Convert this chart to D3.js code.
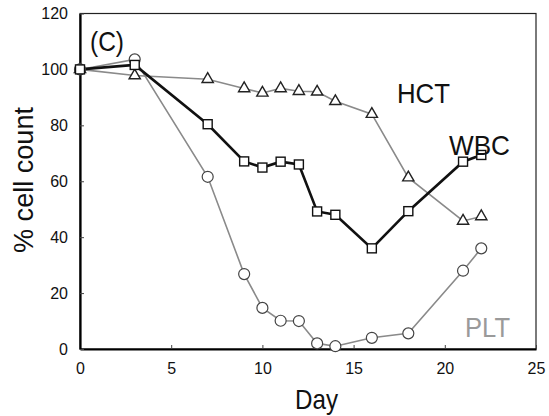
<!DOCTYPE html>
<html>
<head>
<meta charset="utf-8">
<script src="https://cdn.jsdelivr.net/npm/d3@7"></script>
<style>
  body { margin: 0; background: #fff; }
  text { font-family: "Liberation Sans", Arial, sans-serif; }
</style>
</head>
<body>
<script>
var days = [0, 3, 7, 9, 10, 11, 12, 13, 14, 16, 18, 21, 22];
var hct = [100, 97.8, 96.5, 93.2, 91.6, 93.2, 92.2, 92, 88.6, 84, 61.3, 45.8, 47.4];
var wbc = [100, 101.6, 80.4, 67.1, 64.9, 67, 66, 49.2, 48, 36, 49.3, 67, 69.4];
var plt = [100, 103.6, 61.6, 26.8, 14.7, 10.1, 10, 2, 1, 4, 5.6, 28, 36];
var xTicks = [0, 5, 10, 15, 20, 25];
var yTicks = [0, 20, 40, 60, 80, 100, 120];

var W = 549, H = 416;
var mLeft = 80, mRight = 536, mTop = 13.5, mBottom = 349;

var svg = d3.select('body').append('svg')
  .attr('width', W)
  .attr('height', H);

var x = d3.scaleLinear().domain([0, 25]).range([mLeft, mRight]);
var y = d3.scaleLinear().domain([0, 120]).range([mBottom, mTop]);

// frame (top/right thinner)
svg.append('rect')
  .attr('x', mLeft).attr('y', mTop)
  .attr('width', mRight - mLeft).attr('height', mBottom - mTop)
  .attr('fill', 'none').attr('stroke', '#222').attr('stroke-width', 1.2);

var xAxis = svg.append('g')
  .attr('transform', 'translate(0,' + mBottom + ')')
  .call(d3.axisBottom(x).tickValues(xTicks).tickSizeInner(-4).tickSizeOuter(0).tickPadding(14));
var yAxis = svg.append('g')
  .attr('transform', 'translate(' + mLeft + ',0)')
  .call(d3.axisLeft(y).tickValues(yTicks).tickSizeInner(-4).tickSizeOuter(0).tickPadding(12));

[xAxis, yAxis].forEach(function(a) {
  a.select('.domain').attr('stroke', '#000').attr('stroke-width', 2.2);
  a.selectAll('.tick line').attr('stroke', '#444');
  a.selectAll('.tick text')
    .attr('fill', '#111')
    .style('font-size', '16px')
    .style('font-family', '"Liberation Sans", Arial, sans-serif');
});

var line = d3.line()
  .x(function(d) { return x(d[0]); })
  .y(function(d) { return y(d[1]); });

function pairs(vals) {
  return days.map(function(d, i) { return [d, vals[i]]; });
}

// HCT
svg.append('path').datum(pairs(hct))
  .attr('d', line).attr('fill', 'none')
  .attr('stroke', '#8a8a8a').attr('stroke-width', 1.6);
// PLT
svg.append('path').datum(pairs(plt))
  .attr('d', line).attr('fill', 'none')
  .attr('stroke', '#8a8a8a').attr('stroke-width', 1.6);
// WBC
svg.append('path').datum(pairs(wbc))
  .attr('d', line).attr('fill', 'none')
  .attr('stroke', '#111').attr('stroke-width', 2.6);

svg.append('g').selectAll('path')
  .data(pairs(hct))
  .enter()
  .append('path')
    .attr('d', d3.symbol().type(d3.symbolTriangle).size(55))
    .attr('transform', function(d) { return 'translate(' + x(d[0]) + ',' + y(d[1]) + ')'; })
    .attr('fill', '#fff').attr('stroke', '#222').attr('stroke-width', 1.4);

svg.append('g').selectAll('circle')
  .data(pairs(plt))
  .enter()
  .append('circle')
    .attr('cx', function(d) { return x(d[0]); })
    .attr('cy', function(d) { return y(d[1]); })
    .attr('r', 5.5)
    .attr('fill', '#fff').attr('stroke', '#444').attr('stroke-width', 1.2);

svg.append('g').selectAll('rect')
  .data(pairs(wbc))
  .enter()
  .append('rect')
    .attr('x', function(d) { return x(d[0]) - 4.5; })
    .attr('y', function(d) { return y(d[1]) - 4.5; })
    .attr('width', 9).attr('height', 9)
    .attr('fill', '#fff').attr('stroke', '#111').attr('stroke-width', 1.4);

// labels, slightly condensed like the scanned figure
function label(txt, px, py, len, col) {
  return svg.append('text').text(txt)
    .attr('x', px).attr('y', py)
    .attr('textLength', len).attr('lengthAdjust', 'spacingAndGlyphs')
    .style('font-size', '28px').attr('fill', col || '#111');
}
label('(C)', 90, 51, 34);
label('HCT', 397, 103, 53);
label('WBC', 449, 155, 61);
label('PLT', 465, 337, 45, '#9a9a9a');
label('Day', 295, 409, 43);

svg.append('text').text('% cell count')
  .attr('transform', 'translate(33,253) rotate(-90)')
  .attr('textLength', 146).attr('lengthAdjust', 'spacingAndGlyphs')
  .style('font-size', '27px').attr('fill', '#111');
</script>
</body>
</html>
